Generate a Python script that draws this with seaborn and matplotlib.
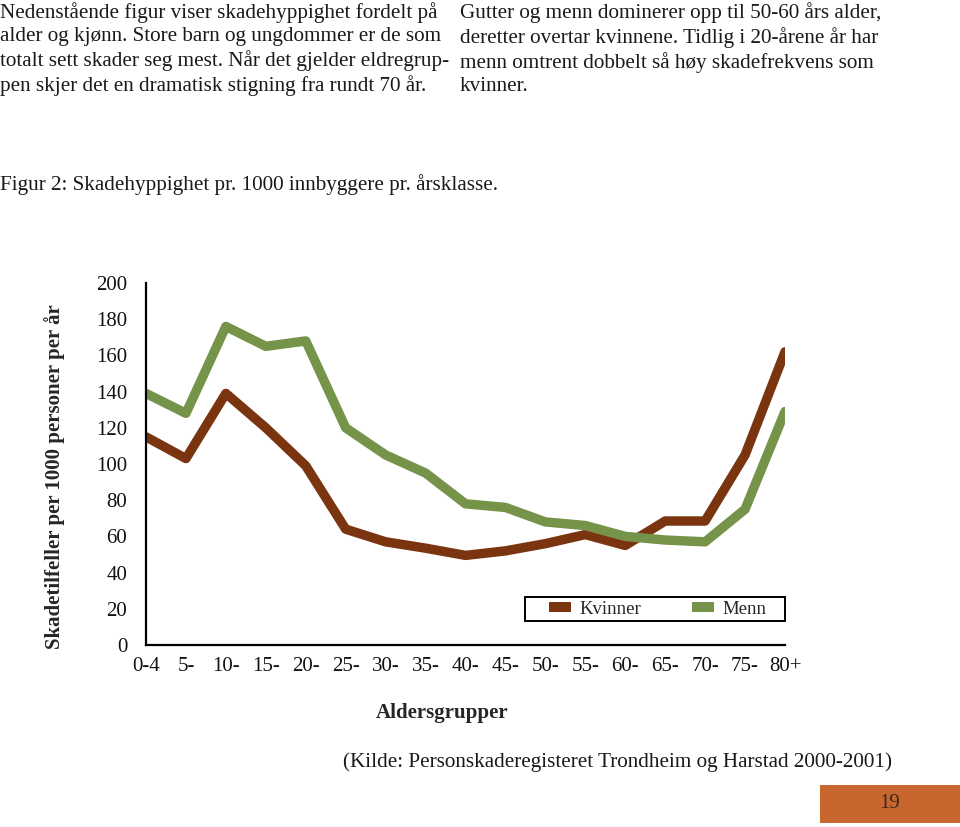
import numpy as np
import pandas as pd
import matplotlib
matplotlib.use("Agg")
import matplotlib.pyplot as plt
from matplotlib.patches import Patch, Rectangle
import seaborn as sns

ages = ["0-4", "5-", "10-", "15-", "20-", "25-", "30-", "35-", "40-",
        "45-", "50-", "55-", "60-", "65-", "70-", "75-", "80+"]
kvinner = [115, 103, 139, 120, 99, 64, 57, 53.5, 49.5, 52, 56, 61, 55, 68.5, 68.5, 105, 162]
menn = [139, 128, 176, 165, 168, 120, 105, 95, 78, 76, 68, 66, 60, 58, 57, 75, 129]
series_names = ["Kvinner", "Menn"]
colors = {"Kvinner": "#7a3410", "Menn": "#76934a"}
yticks = [0, 20, 40, 60, 80, 100, 120, 140, 160, 180, 200]

df = pd.DataFrame({
    "pos": list(range(len(ages))) * 2,
    "verdi": kvinner + menn,
    "kjonn": ["Kvinner"] * len(ages) + ["Menn"] * len(ages),
})

sns.set_theme(style="white")
plt.rcParams["font.family"] = ["Liberation Serif", "DejaVu Serif"]

fig = plt.figure(figsize=(9.6, 8.27), dpi=100)
ax = fig.add_axes([146 / 960, 1 - 645 / 827, (785 - 146) / 960, (645 - 283) / 827])

sns.lineplot(data=df, x="pos", y="verdi", hue="kjonn", palette=colors,
             linewidth=6.8, ax=ax, legend=False, solid_capstyle="round",
             solid_joinstyle="round")

ax.set_xlim(0, len(ages) - 1)
ax.set_ylim(0, 200)
ax.set_xticks(range(len(ages)))
ax.set_xticklabels(ages)
ax.set_yticks(yticks)
ax.set_yticklabels([str(v) for v in yticks])
for s in ["top", "right"]:
    ax.spines[s].set_visible(False)
for s in ["left", "bottom"]:
    ax.spines[s].set_color("black")
    ax.spines[s].set_linewidth(1.6)
ax.tick_params(axis="both", direction="inout", length=9, width=1.6, color="black",
               labelsize=15, labelcolor="#111111")
ax.tick_params(axis="y", pad=9)
ax.tick_params(axis="x", pad=4)
ax.set_xlabel("Aldersgrupper", fontsize=15, fontweight="bold")
ax.set_ylabel("Skadetilfeller per 1000 personer per år", fontsize=15,
              fontweight="bold")
ax.xaxis.set_label_coords((442 - 146) / 639, (645 - 703) / 362)
ax.yaxis.set_label_coords((65 - 146) / 639, (645 - 476.5) / 362)
ax.grid(False)

# legend box
ax.add_patch(Rectangle(((525 - 146) / 639, (645 - 621) / 362), 260 / 639, 24 / 362,
                       transform=ax.transAxes, facecolor="white", edgecolor="black",
                       linewidth=1.4, zorder=4, clip_on=False))
handles = [Patch(facecolor=colors[n], edgecolor="none", label=n) for n in series_names]
leg = ax.legend(handles=handles, ncol=2, loc="center",
                bbox_to_anchor=((658 - 146) / 639, (645 - 609) / 362),
                frameon=False, fontsize=13.5, handlelength=1.17,
                handleheight=0.48, handletextpad=0.45, columnspacing=2.7,
                borderpad=0, borderaxespad=0)
leg.set_zorder(5)

txt_kw = dict(fontsize=15.2, color="#1a1a1a", va="top", linespacing=1.27)
fig.text(0 / 960, 1 - 2 / 827,
         "Nedenstående figur viser skadehyppighet fordelt på\n"
         "alder og kjønn. Store barn og ungdommer er de som\n"
         "totalt sett skader seg mest. Når det gjelder eldregrup-\n"
         "pen skjer det en dramatisk stigning fra rundt 70 år.",
         ha="left", **txt_kw)
fig.text(460 / 960, 1 - 2 / 827,
         "Gutter og menn dominerer opp til 50-60 års alder,\n"
         "deretter overtar kvinnene. Tidlig i 20-årene år har\n"
         "menn omtrent dobbelt så høy skadefrekvens som\n"
         "kvinner.",
         ha="left", **txt_kw)
fig.text(0 / 960, 1 - 185 / 827,
         "Figur 2: Skadehyppighet pr. 1000 innbyggere pr. årsklasse.",
         ha="left", va="center", fontsize=15.2, color="#1a1a1a")
fig.text(343 / 960, 1 - 762 / 827,
         "(Kilde: Personskaderegisteret Trondheim og Harstad 2000-2001)",
         ha="left", va="center", fontsize=15.2, color="#1a1a1a")

fig.patches.append(Rectangle((820 / 960, 1 - 823 / 827), 140 / 960, 38 / 827,
                             transform=fig.transFigure, facecolor="#c8662f",
                             edgecolor="none"))
fig.text(890 / 960, 1 - 803 / 827, "19", ha="center", va="center",
         fontsize=15, color="#3a2a1a")

fig.savefig("out.png", dpi=100)
